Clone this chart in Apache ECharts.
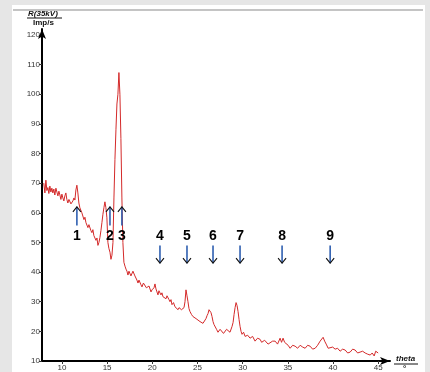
<!DOCTYPE html>
<html>
<head>
<meta charset="utf-8">
<script src="https://cdn.jsdelivr.net/npm/echarts@6/dist/echarts.min.js"></script>
<style>
  html, body { margin: 0; padding: 0; background: #e6e6e6; }
  #chart { width: 430px; height: 372px; }
</style>
</head>
<body>
<div id="chart"></div>
<script>
// diffraction scan, theta (deg) vs count rate (Imp/s)
const theta = [
  8.0, 8.12, 8.23, 8.34, 8.45, 8.56, 8.67, 8.78, 8.89, 9.0, 9.11, 9.22, 9.34, 9.45, 9.56, 9.67, 9.78, 9.89,
  10.0, 10.11, 10.22, 10.33, 10.44, 10.55, 10.66, 10.78, 10.89, 11.0, 11.1, 11.22, 11.33, 11.44, 11.55, 11.66,
  11.77, 11.88, 11.99, 12.1, 12.21, 12.33, 12.44, 12.55, 12.66, 12.77, 12.88, 12.99, 13.1, 13.21, 13.32, 13.43,
  13.54, 13.65, 13.77, 13.88, 13.99, 14.1, 14.21, 14.32, 14.43, 14.54, 14.65, 14.76, 14.87, 14.98, 15.09, 15.2,
  15.32, 15.43, 15.54, 15.65, 15.76, 15.87, 15.98, 16.09, 16.2, 16.31, 16.42, 16.53, 16.64, 16.75, 16.86, 16.98,
  17.09, 17.2, 17.31, 17.42, 17.53, 17.64, 17.75, 17.86, 17.97, 18.08, 18.19, 18.3, 18.42, 18.53, 18.64, 18.75,
  18.86, 19.02, 19.19, 19.35, 19.52, 19.64, 19.75, 19.86, 19.97, 20.08, 20.19, 20.3, 20.41, 20.52, 20.63, 20.74,
  20.85, 20.96, 21.07, 21.18, 21.35, 21.52, 21.63, 21.74, 21.85, 21.96, 22.07, 22.18, 22.35, 22.51, 22.68, 22.85,
  22.96, 23.07, 23.23, 23.4, 23.51, 23.62, 23.73, 23.84, 23.95, 24.06, 24.17, 24.34, 24.5, 24.67, 24.84, 25.06,
  25.28, 25.45, 25.61, 25.78, 25.94, 26.06, 26.17, 26.28, 26.39, 26.5, 26.61, 26.72, 26.83, 26.94, 27.11, 27.27,
  27.5, 27.72, 27.88, 28.05, 28.22, 28.38, 28.6, 28.83, 28.94, 29.05, 29.16, 29.27, 29.38, 29.49, 29.6, 29.71,
  29.82, 29.93, 30.1, 30.27, 30.55, 30.82, 31.1, 31.37, 31.65, 31.93, 32.1, 32.26, 32.43, 32.59, 32.81, 33.03,
  33.31, 33.59, 33.86, 34.14, 34.3, 34.47, 34.64, 34.81, 35.03, 35.25, 35.53, 35.8, 36.08, 36.36, 36.64, 36.91,
  37.19, 37.46, 37.74, 38.02, 38.29, 38.57, 38.74, 38.9, 39.07, 39.24, 39.46, 39.68, 39.96, 40.23, 40.5, 40.78,
  41.06, 41.34, 41.62, 41.89, 42.17, 42.44, 42.72, 42.99, 43.27, 43.55, 43.83, 44.11, 44.33, 44.55, 44.72, 44.88,
  44.99
];
const counts = [
  70.0, 66.7, 71.0, 67.5, 68.5, 66.5, 69.0, 67.0, 68.3, 66.7, 68.0, 66.0, 68.3, 67.0, 65.7, 67.3, 66.0, 64.5,
  66.3, 65.0, 64.0, 65.7, 66.7, 64.5, 63.3, 64.5, 65.0, 63.0, 62.7, 64.0, 65.0, 64.3, 67.7, 69.3,
  66.7, 63.3, 61.7, 62.3, 60.0, 59.5, 57.7, 58.5, 56.7, 57.3, 55.0, 56.0, 55.7, 54.0, 53.3, 54.3,
  52.3, 52.7, 50.7, 51.5, 49.0, 50.0, 51.7, 54.0, 56.7, 59.5, 61.7, 63.7, 61.7, 58.3, 50.0, 48.0,
  46.7, 44.3, 45.7, 50.0, 65.0, 78.0, 88.0, 96.7, 100.0, 107.3, 100.0, 85.0, 65.0, 50.0, 43.3, 42.0,
  41.0, 40.3, 39.0, 40.3, 40.0, 38.7, 39.3, 40.3, 39.7, 38.7, 38.3, 37.3, 36.3, 37.3, 37.0, 35.7,
  35.0, 36.3, 35.7, 34.7, 34.3, 35.3, 34.3, 33.3, 34.0, 33.7, 34.7, 36.0, 34.3, 33.3, 32.3, 33.7,
  33.5, 32.3, 33.0, 31.7, 32.3, 31.0, 32.0, 31.7, 30.7, 30.0, 30.7, 29.0, 29.7, 28.3, 28.7, 27.3,
  28.0, 27.7, 27.3, 27.3, 28.0, 30.0, 34.0, 32.0, 30.0, 27.7, 26.7, 25.7, 25.0, 25.3, 24.3, 24.7,
  23.3, 23.7, 22.7, 23.3, 24.3, 25.3, 26.0, 27.3, 26.7, 26.3, 25.0, 23.3, 22.3, 21.7, 20.7, 19.7,
  20.7, 20.3, 19.3, 19.7, 20.7, 20.7, 19.7, 21.7, 23.0, 25.7, 28.0, 29.7, 28.7, 26.7, 24.0, 21.7,
  20.0, 19.0, 19.7, 18.3, 18.7, 17.7, 18.3, 16.7, 17.7, 17.3, 16.3, 15.7, 17.0, 16.7, 15.7, 15.7,
  16.7, 16.7, 15.7, 17.7, 16.3, 17.7, 16.3, 15.7, 15.3, 14.3, 15.3, 15.0, 14.3, 15.3, 14.7, 14.3,
  15.3, 15.0, 14.0, 14.3, 15.3, 16.7, 17.3, 18.0, 16.7, 15.7, 14.3, 13.7, 14.7, 14.0, 14.3, 13.3,
  14.0, 13.7, 12.7, 13.0, 14.0, 13.7, 12.7, 13.0, 13.3, 12.7, 12.3, 12.0, 12.7, 11.7, 13.3, 13.0,
  12.7
];

// numbered reflection markers
const markTheta = [11.66, 15.32, 16.64, 20.85, 23.84, 26.72, 29.71, 34.36, 39.68];
const markText = ['1', '2', '3', '4', '5', '6', '7', '8', '9'];
const markDir = ['up', 'up', 'up', 'down', 'down', 'down', 'down', 'down', 'down'];

const xTicks = [10, 15, 20, 25, 30, 35, 40, 45];
const yTicks = [10, 20, 30, 40, 50, 60, 70, 80, 90, 100, 110, 120];

const chart = echarts.init(document.getElementById('chart'));

const lineData = theta.map((t, i) => [t, counts[i]]);
const markData = markTheta.map((t, i) => [t, i]);

const option = {
  animation: false,
  grid: { left: 42, right: 40, top: 29, bottom: 7 },
  xAxis: {
    type: 'value',
    min: 7.8,
    max: 46.3,
    splitLine: { show: false },
    axisLine: {
      onZero: false,
      symbol: ['none', 'arrow'],
      symbolSize: [6, 10],
      lineStyle: { color: '#000', width: 2 }
    },
    axisTick: { customValues: xTicks, length: 3, lineStyle: { color: '#333' } },
    axisLabel: {
      customValues: xTicks,
      fontSize: 8,
      color: '#333',
      margin: 3,
      fontFamily: 'Liberation Sans'
    }
  },
  yAxis: {
    type: 'value',
    min: 10,
    max: 122,
    splitLine: { show: false },
    axisLine: {
      onZero: false,
      symbol: ['none', 'arrow'],
      symbolSize: [6, 10],
      lineStyle: { color: '#000', width: 2 }
    },
    axisTick: { customValues: yTicks, length: 3, lineStyle: { color: '#333' } },
    axisLabel: {
      customValues: yTicks,
      fontSize: 8,
      color: '#333',
      margin: 2,
      fontFamily: 'Liberation Sans'
    }
  },
  graphic: [
    { type: 'rect', z: -10, shape: { x: 12, y: 5, width: 413, height: 372 }, style: { fill: '#fff' } },
    { type: 'rect', z: -9, shape: { x: 13, y: 9, width: 410, height: 2 }, style: { fill: '#c4c4c4' } },
    {
      type: 'text', left: 28, top: 10,
      style: { text: 'R(35kV)', font: 'italic bold 8px Liberation Sans', fill: '#111' }
    },
    { type: 'line', shape: { x1: 27, y1: 18, x2: 62, y2: 18 }, style: { stroke: '#111', lineWidth: 1 } },
    {
      type: 'text', left: 33, top: 19,
      style: { text: 'Imp/s', font: 'bold 8px Liberation Sans', fill: '#111' }
    },
    {
      type: 'text', left: 396, top: 355,
      style: { text: 'theta', font: 'italic bold 8px Liberation Sans', fill: '#111' }
    },
    { type: 'line', shape: { x1: 394, y1: 364, x2: 418, y2: 364 }, style: { stroke: '#111', lineWidth: 1 } },
    {
      type: 'text', left: 403, top: 365,
      style: { text: '°', font: 'bold 8px Liberation Sans', fill: '#111' }
    }
  ],
  series: [
    {
      type: 'line',
      data: lineData,
      showSymbol: false,
      lineStyle: { color: '#d42a2a', width: 1 }
    },
    {
      type: 'custom',
      data: markData,
      z: 5,
      renderItem: function (params, api) {
        const t = api.value(0);
        const i = api.value(1);
        const up = markDir[i] === 'up';
        const tip = api.coord([t, up ? 62 : 43]);
        const tail = api.coord([t, up ? 55.7 : 49]);
        const lab = api.coord([t, 52]);
        const h = up ? 5 : -5;
        return {
          type: 'group',
          children: [
            {
              type: 'line',
              shape: { x1: tail[0], y1: tail[1], x2: tip[0], y2: tip[1] },
              style: { stroke: '#2f5fb0', lineWidth: 1.6 }
            },
            {
              type: 'polyline',
              shape: { points: [[tip[0] - 4, tip[1] + h], [tip[0], tip[1]], [tip[0] + 4, tip[1] + h]] },
              style: { stroke: '#111', lineWidth: 1.1, fill: null }
            },
            {
              type: 'text',
              x: lab[0],
              y: lab[1],
              style: {
                text: markText[i],
                font: 'bold 14px Liberation Sans',
                fill: '#000',
                align: 'center',
                verticalAlign: 'middle'
              }
            }
          ]
        };
      }
    }
  ]
};

chart.setOption(option);
</script>
</body>
</html>
